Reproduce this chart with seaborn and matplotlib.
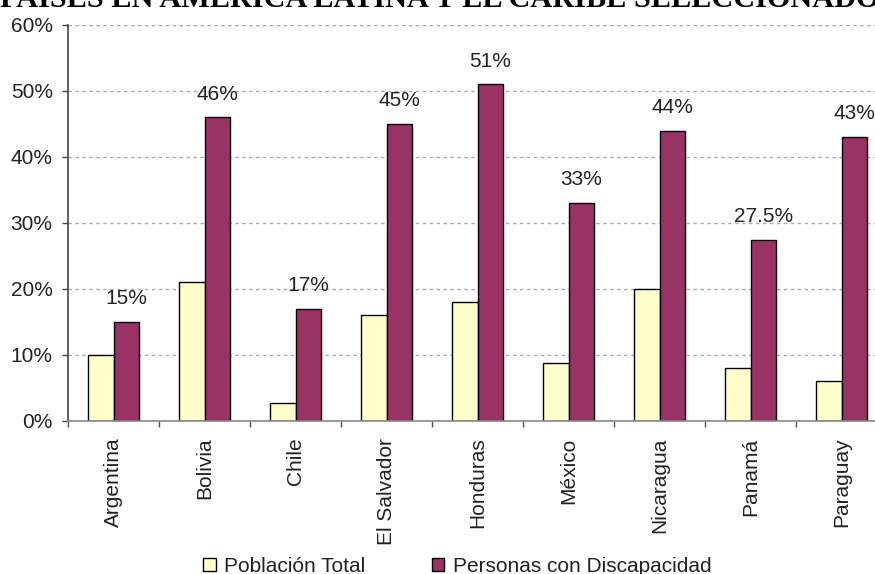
import numpy as np
import pandas as pd
import matplotlib
matplotlib.use("Agg")
import matplotlib.pyplot as plt
from matplotlib.patches import Patch
import seaborn as sns

# ---- data ----
countries = ["Argentina", "Bolivia", "Chile", "El Salvador", "Honduras",
             "México", "Nicaragua", "Panamá", "Paraguay"]
poblacion_total = [10, 21, 2.8, 16, 18, 8.8, 20, 8, 6]
personas_discapacidad = [15, 46, 17, 45, 51, 33, 44, 27.5, 43]
series_names = ["Población Total", "Personas con Discapacidad"]
y_ticks = [0, 10, 20, 30, 40, 50, 60]
title = "PAISES EN AMERICA LATINA Y EL CARIBE SELECCIONADOS"

colors = ["#FFFFCC", "#993366"]
text_color = "#222222"

df = pd.DataFrame({
    "País": countries * 2,
    "Valor": poblacion_total + personas_discapacidad,
    "Serie": [series_names[0]] * len(countries) + [series_names[1]] * len(countries),
})

sns.set_style("white")
plt.rcParams["font.family"] = ["Liberation Sans", "DejaVu Sans"]

W, H = 875, 574
fig = plt.figure(figsize=(W / 100, H / 100), dpi=100)
ax = fig.add_axes([68 / W, 1 - 421 / H, 819 / W, (421 - 25) / H])

sns.barplot(data=df, x="País", y="Valor", hue="Serie", order=countries,
            hue_order=series_names, palette=colors, saturation=1, width=0.565,
            edgecolor="black", linewidth=1.0, errorbar=None, legend=False,
            ax=ax, zorder=3)

ax.set_xlim(-0.5, len(countries) - 0.5)
ax.set_ylim(0, 60)
ax.set_yticks(y_ticks)
ax.set_yticklabels([f"{t}%" for t in y_ticks], fontsize=15, color=text_color)
ax.set_xticks(range(len(countries)))
ax.set_xticklabels(countries, rotation=90, fontsize=15, color=text_color)
ax.set_xticks(np.arange(-0.5, len(countries), 1), minor=True)
ax.tick_params(axis="x", which="major", length=0, pad=12)
ax.tick_params(axis="x", which="minor", length=4, width=1, color="#555555",
               direction="out", bottom=True)
ax.tick_params(axis="y", which="major", length=4, width=1, color="#444444",
               direction="out", pad=7, left=True)
ax.set_xlabel("")
ax.set_ylabel("")

ax.yaxis.grid(True, linestyle=(0, (2.5, 2.5)), color="#AAAAAA", linewidth=1)
ax.xaxis.grid(False)
ax.set_axisbelow(True)

for s in ["top", "right"]:
    ax.spines[s].set_visible(False)
ax.spines["left"].set_color("#444444")
ax.spines["left"].set_linewidth(1.2)
ax.spines["bottom"].set_color("#888888")
ax.spines["bottom"].set_linewidth(1.2)
ax.spines["bottom"].set_zorder(4)

# value labels over the disability bars
ax.bar_label(ax.containers[1], labels=[f"{v:g}%" for v in personas_discapacidad],
             padding=10, fontsize=15, color=text_color)

# title (partially cut at the top, as in the reference)
fig.text(0, 1 - 7 / H, title, ha="left", va="baseline", fontsize=21.8,
         fontweight="bold", family=["Liberation Serif", "DejaVu Serif"],
         color="black")

handles = [Patch(facecolor=c, edgecolor="black", linewidth=1) for c in colors]
fig.legend(handles, series_names, loc="center left",
           bbox_to_anchor=(203 / W, 1 - 566 / H), ncol=2, frameon=False,
           fontsize=15, handlelength=0.6, handleheight=0.6,
           handletextpad=0.4, columnspacing=3.2, borderpad=0,
           borderaxespad=0, labelcolor=text_color)

fig.savefig("out.png", dpi=100)
